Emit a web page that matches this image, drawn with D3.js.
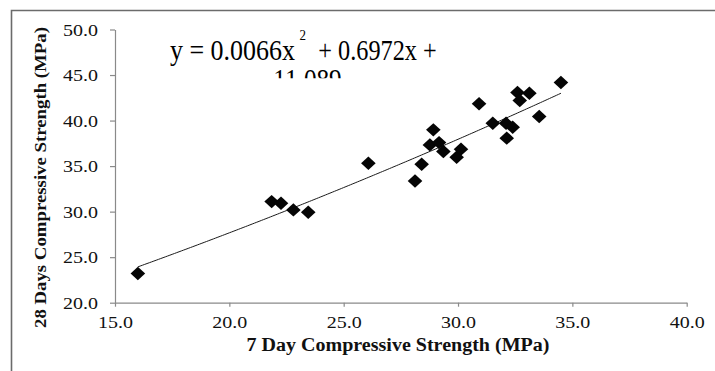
<!DOCTYPE html>
<html>
<head>
<meta charset="utf-8">
<script src="https://cdn.jsdelivr.net/npm/d3@7"></script>
<style>
  html, body { margin: 0; padding: 0; background: #fff; }
  svg { display: block; }
  svg text { font-family: "Liberation Serif", "Times New Roman", "DejaVu Serif", serif; }
</style>
</head>
<body>
<svg id="chart" width="715" height="371"></svg>
<script>
// ---- data ----
const day7  = [16.0, 21.85, 22.26, 22.8, 23.45, 26.08, 28.12, 28.41, 28.77, 28.92, 29.17, 29.36, 29.94, 30.13, 30.92, 31.52, 32.1, 32.13, 32.39, 32.6, 32.7, 33.12, 33.55, 34.5];
const day28 = [23.2, 31.1, 30.92, 30.19, 29.93, 35.32, 33.37, 35.21, 37.33, 38.98, 37.58, 36.6, 35.98, 36.86, 41.84, 39.7, 39.7, 38.07, 39.27, 43.08, 42.2, 43.0, 40.44, 44.18];
const xTicks = [15, 20, 25, 30, 35, 40];
const yTicks = [20, 25, 30, 35, 40, 45, 50];
const trendCoef = [0.0066, 0.6972, 11.089]; // a, b, c  (y = a x^2 + b x + c)
const equationLine1 = "y = 0.0066x";
const equationSup = "2";
const equationLine1b = "+ 0.6972x +";
const equationLine2 = "11.089";
const xTitle = "7 Day Compressive Strength (MPa)";
const yTitle = "28 Days Compressive Strength (MPa)";

const svg = d3.select("#chart");
const serif = "'Liberation Serif', 'Times New Roman', 'DejaVu Serif', serif";

// outer chart border (only top and left visible)
svg.append("path")
  .attr("d", "M11.5,371 L11.5,10.5 L715,10.5")
  .attr("fill", "none").attr("stroke", "#6b6b6b").attr("stroke-width", 1.6);

const x = d3.scaleLinear().domain([15, 40]).range([115, 686.7]);
const y = d3.scaleLinear().domain([20, 50]).range([302.7, 29.5]);
const fmt = d3.format(".1f");

// y axis
const gy = svg.append("g").attr("transform", "translate(115,0)")
  .call(d3.axisLeft(y).tickValues(yTicks).tickFormat(fmt).tickSize(5).tickSizeOuter(0).tickPadding(12));
// x axis
const gx = svg.append("g").attr("transform", "translate(0,302.7)")
  .call(d3.axisBottom(x).tickValues(xTicks).tickFormat(fmt).tickSize(4).tickSizeOuter(0).tickPadding(10));

[gy, gx].forEach(g => {
  g.attr("font-family", serif);
  g.select(".domain").attr("stroke", "#8a8a8a").attr("stroke-width", 1.2);
  g.selectAll(".tick line").attr("stroke", "#8a8a8a").attr("stroke-width", 1.2);
  g.selectAll(".tick text")
    .style("font-family", serif).attr("font-size", 16.5).attr("fill", "#111")
    .attr("textLength", 35).attr("lengthAdjust", "spacingAndGlyphs");
});
gy.selectAll(".tick text").attr("dy", "0.34em");

// trendline
const xs = d3.range(d3.min(day7), d3.max(day7) + 0.001, 0.1);
const line = d3.line().x(d => x(d)).y(d => y(trendCoef[0] * d * d + trendCoef[1] * d + trendCoef[2]));
svg.append("path").datum(xs)
  .attr("d", line).attr("fill", "none").attr("stroke", "#1a1a1a").attr("stroke-width", 1);

// markers (diamonds)
const pts = day7.map((d, i) => [d, day28[i]]);
svg.append("g").selectAll("path").data(pts).enter().append("path")
  .attr("transform", d => `translate(${x(d[0])},${y(d[1])})`)
  .attr("d", "M0,-6.7 L7.3,0 L0,6.7 L-7.3,0 Z")
  .attr("fill", "#050505");

// equation text (font a little narrow, stretched vertically like the reference)
const defs = svg.append("defs");
defs.append("clipPath").attr("id", "eqclip")
  .append("rect").attr("x", 0).attr("y", 0).attr("width", 715).attr("height", 78.3);
const eq = svg.append("g").attr("fill", "#000").attr("clip-path", "url(#eqclip)");
function eqText(tx, ty, size, len, str) {
  const t = eq.append("text").attr("transform", `translate(${tx},${ty}) scale(1,1.13)`)
    .attr("font-size", size).text(str);
  if (len) t.attr("textLength", len).attr("lengthAdjust", "spacingAndGlyphs");
  return t;
}
eqText(170, 60, 25.8, 125, equationLine1);
eqText(299.5, 40, 13, null, equationSup);
eqText(318.3, 60, 25.8, 118.4, equationLine1b);
eqText(273.3, 89, 25.8, 68.4, equationLine2);

// axis titles
svg.append("text").attr("x", 246.5).attr("y", 351)
  .attr("font-weight", "bold").attr("font-size", 18).attr("fill", "#111")
  .attr("textLength", 303).attr("lengthAdjust", "spacingAndGlyphs").text(xTitle);
svg.append("text").attr("transform", "translate(46,328) rotate(-90)")
  .attr("font-weight", "bold").attr("font-size", 16).attr("fill", "#111")
  .attr("textLength", 301).attr("lengthAdjust", "spacingAndGlyphs").text(yTitle);
</script>
</body>
</html>
